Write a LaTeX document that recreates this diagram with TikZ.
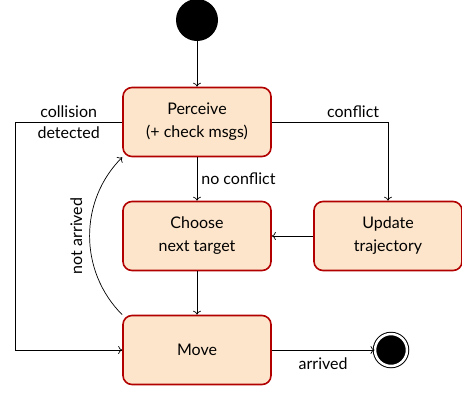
\documentclass[tikz,border=0pt]{standalone}
\usepackage{fontspec}
\setmainfont{Lato}
\usetikzlibrary{arrows.meta}
\definecolor{statered}{RGB}{178,0,0}
\definecolor{statefill}{RGB}{253,229,203}

\begin{document}
\begin{tikzpicture}[x=1pt,y=1pt,every node/.style = {font=\fontsize{16}{23}\selectfont, inner sep=4pt},
					->, >={To[length=4pt,width=8pt]}, line width=0.7pt]

\tikzstyle{state}=[rectangle, rounded corners=9pt, draw=statered, line width=1.6pt, fill=statefill, minimum width=148pt, minimum height=69pt, align=center]
\tikzstyle{initial_dot}=[circle, fill=black, minimum size=42pt, inner sep=0pt]
\tikzstyle{final_dot}=[circle, fill=black, minimum size=32pt, inner sep=0pt, double=white, double distance=2.5pt, draw=black, line width=1pt]

\useasboundingbox (0,0) rectangle (462,-392);

\node[initial_dot] (start) at (197,-20) {};
\node[state] (perceive) at (197,-122) {Perceive\\(+ check msgs)};
\node[state] (choose) at (197,-236) {Choose\\next target};
\node[state] (update) at (388,-236) {Update\\trajectory};
\node[state] (move) at (197,-350) {Move};
\node[final_dot] (stop) at (391,-350) {};

\draw (start) -- (perceive);
\draw (perceive) -- node[right] {no conflict} (choose);
\draw (perceive.east) -| node[pos=0.35, above] {conflict} (update.north);
\draw (update) -- (choose);
\draw (choose) -- (move);
\draw (perceive.west) -- node[above] {collision} node[below] {detected} ++(-107,0) |- (move.west);
\draw (move.north west) to[bend left=45] node[midway, sloped, above, inner sep=7pt] {not arrived} (perceive.south west);
\draw (move) -- node[below, inner sep=7pt] {arrived} (stop);
\end{tikzpicture}
\end{document}
